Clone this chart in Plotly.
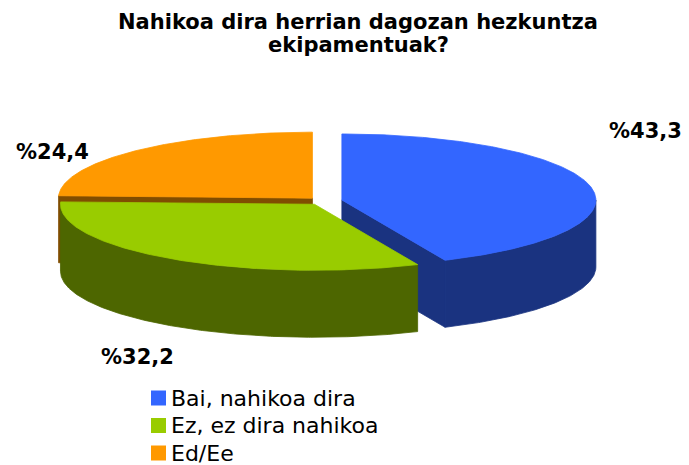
import numpy as np
import plotly.graph_objects as go

# Survey answers and their shares (%)
categories = ["Bai, nahikoa dira", "Ez, ez dira nahikoa", "Ed/Ee"]
shares = [43.3, 32.2, 24.4]
top_colors = ["#3366FF", "#99CC00", "#FF9900"]
side_colors = ["#1A3380", "#4D6600", "#804D00"]
explode = [0.076, 0.06, 0.06]
title_lines = ["Nahikoa dira herrian dagozan hezkuntza", "ekipamentuak?"]

# 3D pie geometry (screen-pixel axes, y pointing down)
CX, CY = 323.0, 201.0
RX, RY = 254.0, 66.0
DEPTH = 67.0
FONT = "DejaVu Sans"


def rim(theta_deg, ox, oy, drop=0.0):
    t = np.radians(theta_deg)
    return ox + RX * np.sin(t), oy - RY * np.cos(t) + drop


fig = go.Figure()


def poly(xs, ys, color):
    fig.add_trace(go.Scatter(
        x=list(xs) + [xs[0]], y=list(ys) + [ys[0]], mode="lines",
        fill="toself", fillcolor=color,
        line=dict(color=color, width=0.8),
        hoverinfo="skip", showlegend=False))


total = sum(shares)
starts = np.cumsum([0] + shares[:-1]) / total * 360
ends = np.cumsum(shares) / total * 360

slices = []
for i in range(len(shares)):
    a, b = starts[i], ends[i]
    m = np.radians((a + b) / 2)
    ox = CX + explode[i] * RX * np.sin(m)
    oy = CY - explode[i] * RY * np.cos(m)
    slices.append((i, a, b, ox, oy))

# paint from back to front: Ed/Ee, Bai, Ez
order = [2, 0, 1]
for i in order:
    _, a, b, ox, oy = slices[i]
    side = side_colors[i]
    # radial cut faces facing the viewer
    for ang, visible in ((a, np.sin(np.radians(a)) < -1e-9),
                         (b, np.sin(np.radians(b)) > 1e-9)):
        if visible:
            rx_, ry_ = rim(ang, ox, oy)
            poly([ox, rx_, rx_, ox], [oy, ry_, ry_ + DEPTH, oy + DEPTH], side)
    # outer wall on the front half of the rim
    lo, hi = max(a, 90.0), min(b, 270.0)
    if hi > lo:
        th = np.linspace(lo, hi, max(int(hi - lo) * 2, 4))
        xt, yt = rim(th, ox, oy)
        xb, yb = rim(th[::-1], ox, oy, DEPTH)
        poly(np.concatenate([xt, xb]), np.concatenate([yt, yb]), side)
    # top face
    th = np.linspace(a, b, max(int(b - a) * 2, 4))
    xt, yt = rim(th, ox, oy)
    poly(np.concatenate([[ox], xt]), np.concatenate([[oy], yt]), top_colors[i])

# value labels
label_pos = [(645, 131), (137, 357), (52, 152)]
for v, (lx, ly) in zip(shares, label_pos):
    fig.add_annotation(
        x=lx, y=ly, xref="x", yref="y", showarrow=False,
        text="%" + f"{v:.1f}".replace(".", ","),
        font=dict(family=FONT, size=21, color="#000000", weight="bold"))

# title, one annotation per line
for k, line in enumerate(title_lines):
    fig.add_annotation(
        x=358, y=22 + 23 * k, xref="x", yref="y", showarrow=False,
        text=line,
        font=dict(family=FONT, size=21, color="#000000", weight="bold"))

# legend: colour square + label per answer
for k, (name, col) in enumerate(zip(categories, top_colors)):
    yc = 398 + 27.5 * k
    fig.add_shape(type="rect", xref="x", yref="y",
                  x0=151, x1=166, y0=yc - 7.5, y1=yc + 7.5,
                  fillcolor=col, line=dict(width=0))
    fig.add_annotation(
        x=169, y=yc, xref="x", yref="y", showarrow=False,
        xanchor="left", yanchor="middle", text=name,
        font=dict(family=FONT, size=22, color="#000000"))

fig.update_layout(
    width=689, height=465,
    margin=dict(l=0, r=0, t=0, b=0),
    paper_bgcolor="#FFFFFF", plot_bgcolor="#FFFFFF",
    xaxis=dict(range=[0, 689], visible=False, fixedrange=True),
    yaxis=dict(range=[465, 0], visible=False, fixedrange=True),
    showlegend=False,
)

fig.write_html("out.html")
